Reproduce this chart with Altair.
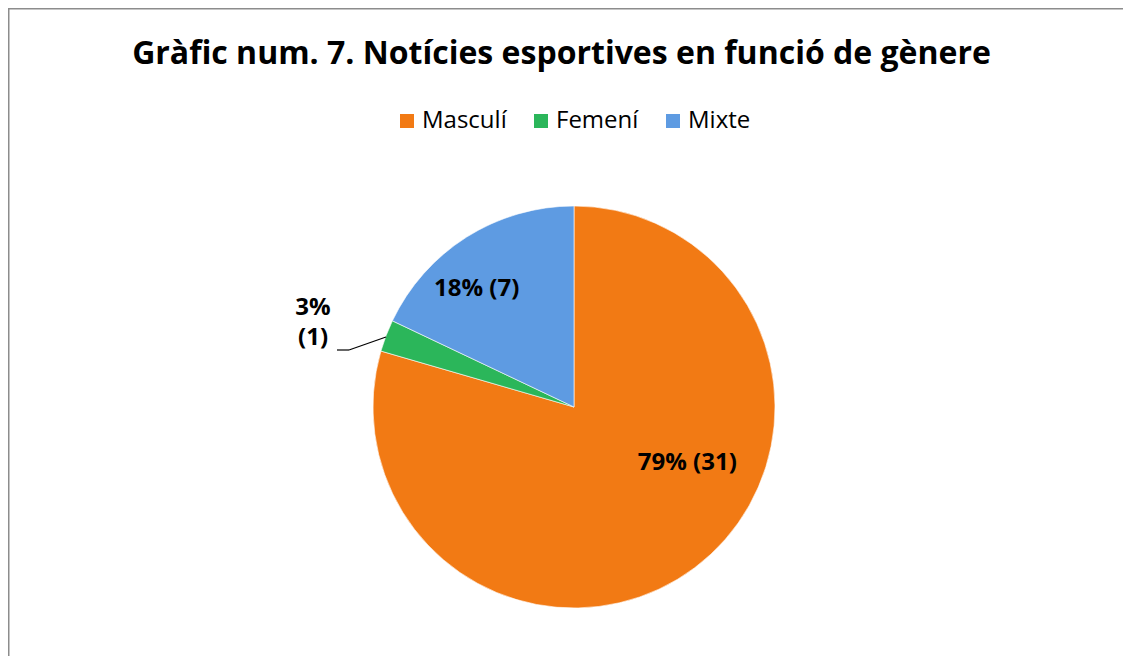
import altair as alt
import pandas as pd

title_text = "Gràfic num. 7. Notícies esportives en funció de gènere"
categories = ["Masculí", "Femení", "Mixte"]
values = [31, 1, 7]
colors = ["#F27A14", "#2BB65A", "#5E9BE2"]

total = sum(values)
labels = []
for c, v in zip(categories, values):
    pct = round(v / total * 100)
    if c == "Femení":
        labels.append(f"{pct}%\n({v})")
    else:
        labels.append(f"{pct}% ({v})")

df = pd.DataFrame({
    "categoria": categories,
    "valor": values,
    "etiqueta": labels,
    "ordre": list(range(len(categories))),
})

W, H = 1115, 648
CX, CY = 566, 399
R = 201
FONT = "Open Sans"

base = alt.Chart(df)

color = alt.Color(
    "categoria:N",
    scale=alt.Scale(domain=categories, range=colors),
    sort=categories,
    legend=alt.Legend(
        title=None,
        orient="none",
        legendX=387,
        legendY=101,
        direction="horizontal",
        symbolType="square",
        symbolSize=196,
        symbolStrokeWidth=0,
        labelFontSize=24,
        labelFont=FONT,
        labelColor="#000000",
        labelOffset=3,
        columnPadding=22,
        padding=0,
    ),
)

pie = base.mark_arc(outerRadius=R, stroke="#ffffff", strokeWidth=0.6).encode(
    theta=alt.Theta("valor:Q", stack=True),
    color=color,
    order=alt.Order("ordre:Q"),
    x=alt.value(CX),
    y=alt.value(CY),
)

lab_base = base.transform_joinaggregate(
    total="sum(valor)"
).transform_window(
    cum="sum(valor)", sort=[alt.SortField("ordre")], frame=[None, 0]
).transform_calculate(
    mid="(datum.cum - datum.valor / 2) / datum.total"
)

def label_layer(cat, radius, dx, dy):
    return lab_base.transform_filter(alt.datum.categoria == cat).mark_text(
        radius=radius, dx=dx, dy=dy, font=FONT, fontWeight="bold",
        fontSize=24, color="#000000", lineBreak="\n", lineHeight=30,
        align="center", baseline="middle",
    ).encode(
        theta=alt.Theta("mid:Q", scale=alt.Scale(domain=[0, 1], range=[0, 6.283185307179586]), stack=None),
        text="etiqueta:N",
        x=alt.value(CX),
        y=alt.value(CY),
    )

lab_m = label_layer("Masculí", 127, 37, -46)
lab_x = label_layer("Mixte", 154, -15, 12)
lab_f = label_layer("Femení", 262, -16, -6)

deco = pd.DataFrame({"k": [0]})
dchart = alt.Chart(deco)

leader1 = dchart.mark_rule(color="#000000", strokeWidth=1.2).encode(
    x=alt.value(329), x2=alt.value(341), y=alt.value(342), y2=alt.value(342))
leader2 = dchart.mark_rule(color="#000000", strokeWidth=1.2).encode(
    x=alt.value(341), x2=alt.value(378), y=alt.value(342), y2=alt.value(329))

border_top = dchart.mark_rule(color="#8c8c8c", strokeWidth=1.5).encode(
    x=alt.value(0), x2=alt.value(W), y=alt.value(0.75), y2=alt.value(0.75))
border_left = dchart.mark_rule(color="#8c8c8c", strokeWidth=1.5).encode(
    x=alt.value(0.75), x2=alt.value(0.75), y=alt.value(0), y2=alt.value(H))

title = alt.Chart(pd.DataFrame({"t": [title_text]})).mark_text(
    font=FONT, fontWeight="bold", fontSize=32, color="#000000",
    align="center", baseline="middle",
).encode(text="t:N", x=alt.value(553.5), y=alt.value(46))

chart = alt.layer(
    border_top, border_left, pie, lab_m, lab_x, lab_f, leader1, leader2, title
).resolve_scale(theta="independent").properties(
    width=W, height=H, padding=0, autosize="none"
).configure_view(stroke=None).configure(background="#ffffff")

chart.save("out.html", embed_options={"renderer": "svg", "actions": False})
